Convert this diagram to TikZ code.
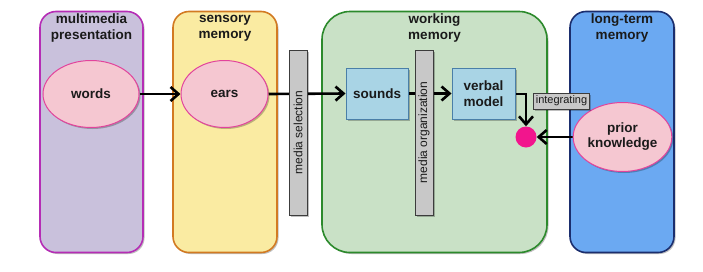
\documentclass[tikz,border=0pt]{standalone}
\usepackage{fontspec}
\setmainfont{Liberation Sans}
\usetikzlibrary{arrows.meta,shadows,shapes.geometric}
\definecolor{txt}{HTML}{1A1A1A}
\definecolor{mmfill}{HTML}{C9C1DC}
\definecolor{mmdraw}{HTML}{B52DB5}
\definecolor{smfill}{HTML}{FAEBA2}
\definecolor{smdraw}{HTML}{D27A22}
\definecolor{wmfill}{HTML}{C9E1C6}
\definecolor{wmdraw}{HTML}{2C8A2C}
\definecolor{ltfill}{HTML}{6BA9F2}
\definecolor{ltdraw}{HTML}{1B2E6E}
\definecolor{elfill}{HTML}{F5C7D1}
\definecolor{eldraw}{HTML}{E2449C}
\definecolor{rcfill}{HTML}{A9D4E5}
\definecolor{rcdraw}{HTML}{4A7FA8}
\definecolor{barfill}{HTML}{C8C8C8}
\definecolor{bardraw}{HTML}{3C3C3C}
\definecolor{dotc}{HTML}{F2158D}
\pgfdeclarelayer{bg}
\pgfdeclarelayer{edges}
\pgfsetlayers{bg,edges,main}
\tikzset{
  shd/.style={drop shadow={shadow xshift=1.5pt,shadow yshift=-1.5pt,fill=black,opacity=0.25}},
  column/.style={shd,draw,line width=1.6pt,rounded corners=16pt,inner sep=0pt},
  coltitle/.style={text=txt,font=\fontsize{13.5}{16}\selectfont\bfseries,align=center,inner sep=0pt},
  oval/.style={shd,ellipse,draw=eldraw,fill=elfill,line width=1pt,text=txt,font=\fontsize{13.5}{15}\selectfont\bfseries,align=center,inner sep=0pt},
  store/.style={shd,draw=rcdraw,fill=rcfill,line width=1pt,text=txt,font=\fontsize{13.5}{16}\selectfont\bfseries,align=center,inner sep=0pt},
  bar/.style={shd,draw=bardraw,fill=barfill,line width=0.9pt,inner sep=0pt},
  bartext/.style={rotate=90,text=txt,font=\fontsize{12}{14}\selectfont,inner sep=0pt},
  flow/.style={line width=2.6pt,draw=black,-{Straight Barb[length=8pt,width=14pt,line width=2.6pt]}},
}
\begin{document}
\begin{tikzpicture}[x=1pt,y=-1pt]
\useasboundingbox (0,0) rectangle (703,271);
\begin{pgfonlayer}{bg}
\node[column,draw=mmdraw,fill=mmfill,minimum width=103pt,minimum height=241pt] (mm) at (91.5,132) {};
\node[column,draw=smdraw,fill=smfill,minimum width=104pt,minimum height=241pt] (sm) at (225,132) {};
\node[column,draw=wmdraw,fill=wmfill,rounded corners=28pt,minimum width=225pt,minimum height=241pt] (wm) at (434.5,132) {};
\node[column,draw=ltdraw,fill=ltfill,minimum width=104pt,minimum height=241pt] (lt) at (622,132) {};
\end{pgfonlayer}
\node[coltitle] (mmt) at (91.5,28) {multimedia\\presentation};
\node[coltitle] (smt) at (225,28) {sensory\\memory};
\node[coltitle] (wmt) at (434.5,28) {working\\memory};
\node[coltitle] (ltt) at (622,28) {long-term\\memory};
\node[oval,minimum width=96pt,minimum height=67pt] (words) at (91,94) {words};
\node[oval,minimum width=87pt,minimum height=67pt] (ears) at (224.5,94) {ears};
\node[oval,minimum width=87pt,minimum height=69pt] (prior) at (622.5,137) {prior\\knowledge};
\node[store,minimum width=62pt,minimum height=51pt] (sounds) at (377,93.5) {sounds};
\node[store,minimum width=63pt,minimum height=51pt] (verbal) at (483.5,93.5) {verbal\\model};
\node[bar,minimum width=18pt,minimum height=165pt] (sel) at (298,132.5) {};
\node[bartext] (selt) at (sel.center) {media selection};
\node[bar,minimum width=18pt,minimum height=165pt] (org) at (424,132.5) {};
\node[bartext] (orgt) at (org.center) {media organization};
\node[circle,fill=dotc,minimum size=21pt,inner sep=0pt] (dot) at (526,137) {};
\node[shd,draw=bardraw,fill=barfill,line width=0.9pt,text=txt,font=\fontsize{11}{12}\selectfont,inner sep=0pt,minimum width=56pt,minimum height=16pt] (integ) at (561.5,101) {integrating};
\begin{pgfonlayer}{edges}
\draw[flow] (words.east) -- (ears.west);
\draw[flow] (ears.east) -- (sounds.west);
\draw[flow] (sounds.east) -- (verbal.west);
\draw[flow] (verbal.east |- 0,94) -| (dot.north);
\draw[flow] (prior.west) -- (dot.east);
\end{pgfonlayer}
\end{tikzpicture}
\end{document}
